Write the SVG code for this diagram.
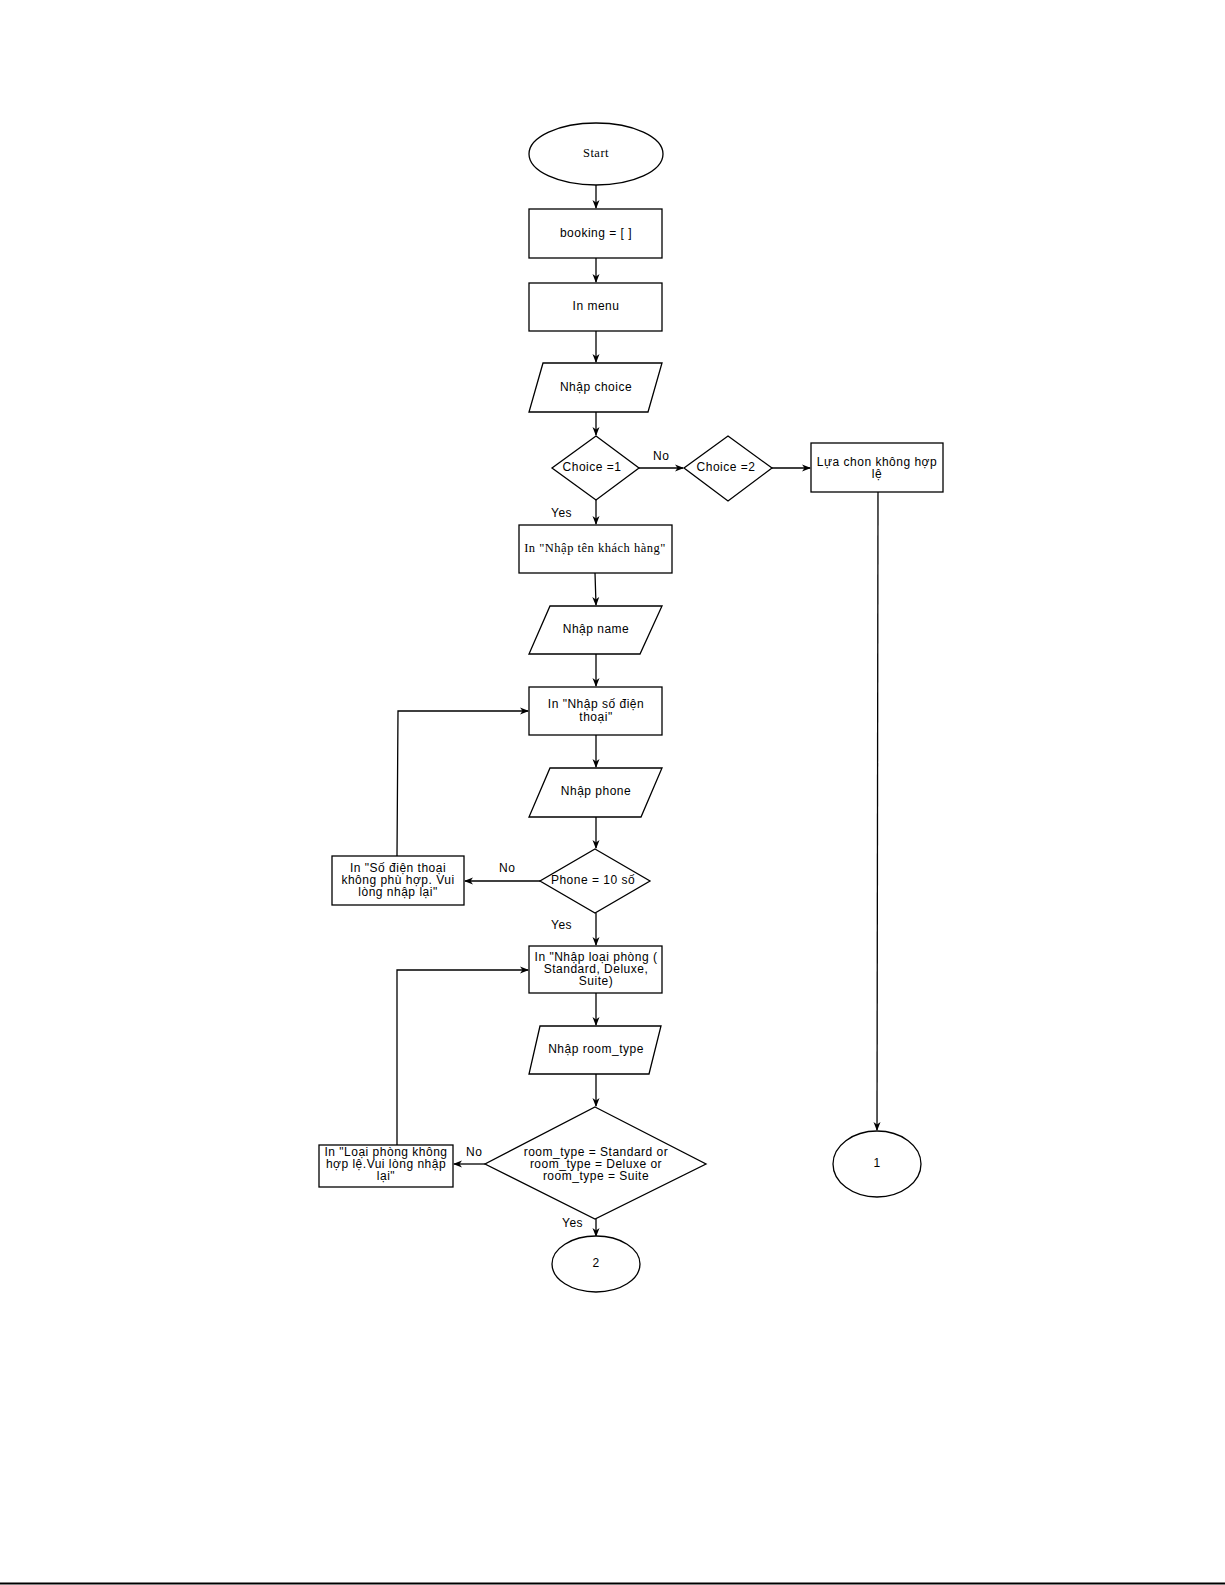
<svg xmlns="http://www.w3.org/2000/svg" width="1225" height="1585" viewBox="0 0 1225 1585">
<defs>
<marker id="arr" markerWidth="10" markerHeight="8" refX="8" refY="4" orient="auto" markerUnits="userSpaceOnUse">
<path d="M0,0.5 L9,4 L0,7.5 L2.5,4 Z" fill="#000"/>
</marker>
<style>
.s{fill:#fff;stroke:#000;stroke-width:1.3}
.t{font-family:"Liberation Sans",Arial,sans-serif;font-size:12px;letter-spacing:0.5px;fill:#000;text-anchor:middle;dominant-baseline:middle}
.sf{font-family:"Liberation Serif","Times New Roman",serif;font-size:12.5px;letter-spacing:0.5px;fill:#000;text-anchor:middle;dominant-baseline:middle}
.l{font-family:"Liberation Sans",Arial,sans-serif;font-size:12px;letter-spacing:0.5px;fill:#000}
.c{fill:none;stroke:#000;stroke-width:1.3;marker-end:url(#arr)}
</style>
</defs>
<rect width="1225" height="1585" fill="#fff"/>
<g id="connectors">
<path class="c" d="M596,185 V208"/>
<path class="c" d="M596,258 V282"/>
<path class="c" d="M596,331 V362"/>
<path class="c" d="M596,412 V435"/>
<path class="c" d="M639,468 H683"/>
<path class="c" d="M772,468 H810"/>
<path class="c" d="M596,500 V524"/>
<path class="c" d="M595,573 L596,605"/>
<path class="c" d="M596,654 V686"/>
<path class="c" d="M596,735 V767"/>
<path class="c" d="M596,817 V848"/>
<path class="c" d="M540,881 H465"/>
<path class="c" d="M397,856 L398,711 H528"/>
<path class="c" d="M596,913 V945"/>
<path class="c" d="M596,993 V1025"/>
<path class="c" d="M596,1074 V1106"/>
<path class="c" d="M485,1164 H454"/>
<path class="c" d="M397,1145 V970 H528"/>
<path class="c" d="M596,1219 V1236"/>
<path class="c" d="M878,492 L877,1130"/>
<text class="l" x="653" y="460">No</text>
<text class="l" x="551" y="517">Yes</text>
<text class="l" x="499" y="872">No</text>
<text class="l" x="551" y="929">Yes</text>
<text class="l" x="466" y="1156">No</text>
<text class="l" x="562" y="1227">Yes</text>
</g>
<g id="start"><ellipse class="s" cx="596" cy="154" rx="67" ry="31"/><text class="sf" x="596" y="154">Start</text></g>
<g id="booking"><rect class="s" x="529" y="209" width="133" height="49"/><text class="t" x="596" y="234">booking = [ ]</text></g>
<g id="menu"><rect class="s" x="529" y="283" width="133" height="48"/><text class="t" x="596" y="307">In menu</text></g>
<g id="input-choice"><polygon class="s" points="543,363 662,363 648,412 529,412"/><text class="t" x="596" y="388">Nhập choice</text></g>
<g id="choice1"><polygon class="s" points="596,436 639,468 596,500 552,468"/><text class="t" x="592" y="468">Choice =1</text></g>
<g id="choice2"><polygon class="s" points="728,436 772,468 728,501 684,468"/><text class="t" x="726" y="468">Choice =2</text></g>
<g id="invalid"><rect class="s" x="811" y="443" width="132" height="49"/><text class="t" x="877" y="463"><tspan x="877">Lựa chon không hợp</tspan><tspan x="877" dy="12">lệ</tspan></text></g>
<g id="ask-name"><rect class="s" x="519" y="525" width="153" height="48"/><text class="sf" x="595" y="549">In "Nhập tên khách hàng"</text></g>
<g id="input-name"><polygon class="s" points="550,606 662,606 640,654 529,654"/><text class="t" x="596" y="630">Nhập name</text></g>
<g id="ask-phone"><rect class="s" x="529" y="687" width="133" height="48"/><text class="t" x="596" y="705"><tspan x="596">In "Nhập số điện</tspan><tspan x="596" dy="13">thoại"</tspan></text></g>
<g id="input-phone"><polygon class="s" points="550,768 662,768 641,817 529,817"/><text class="t" x="596" y="792">Nhập phone</text></g>
<g id="phone-check"><polygon class="s" points="595,849 650,881 595,913 540,881"/><text class="t" x="593" y="881">Phone = 10 số</text></g>
<g id="phone-error"><rect class="s" x="332" y="856" width="132" height="49"/><text class="t" x="398" y="869"><tspan x="398">In "Số điện thoại</tspan><tspan x="398" dy="12">không phù hợp. Vui</tspan><tspan x="398" dy="12">lòng nhập lại"</tspan></text></g>
<g id="ask-room"><rect class="s" x="529" y="946" width="133" height="47"/><text class="t" x="596" y="958"><tspan x="596">In "Nhập loại phòng (</tspan><tspan x="596" dy="12">Standard, Deluxe,</tspan><tspan x="596" dy="12">Suite)</tspan></text></g>
<g id="input-room"><polygon class="s" points="540,1026 661,1026 649,1074 529,1074"/><text class="t" x="596" y="1050">Nhập room_type</text></g>
<g id="room-check"><polygon class="s" points="595,1107 706,1164 595,1219 485,1164"/><text class="t" x="596" y="1153"><tspan x="596">room_type = Standard or</tspan><tspan x="596" dy="12">room_type = Deluxe or</tspan><tspan x="596" dy="12">room_type = Suite</tspan></text></g>
<g id="room-error"><rect class="s" x="319" y="1145" width="134" height="42"/><text class="t" x="386" y="1153"><tspan x="386">In "Loại phòng không</tspan><tspan x="386" dy="12">hợp lệ.Vui lòng nhập</tspan><tspan x="386" dy="12">lại"</tspan></text></g>
<g id="conn-2"><ellipse class="s" cx="596" cy="1264" rx="44" ry="28"/><text class="t" x="596" y="1264">2</text></g>
<g id="conn-1"><ellipse class="s" cx="877" cy="1164" rx="44" ry="33"/><text class="t" x="877" y="1164">1</text></g>
<line x1="0" y1="1583.5" x2="1225" y2="1583.5" stroke="#000" stroke-width="2"/>
</svg>
